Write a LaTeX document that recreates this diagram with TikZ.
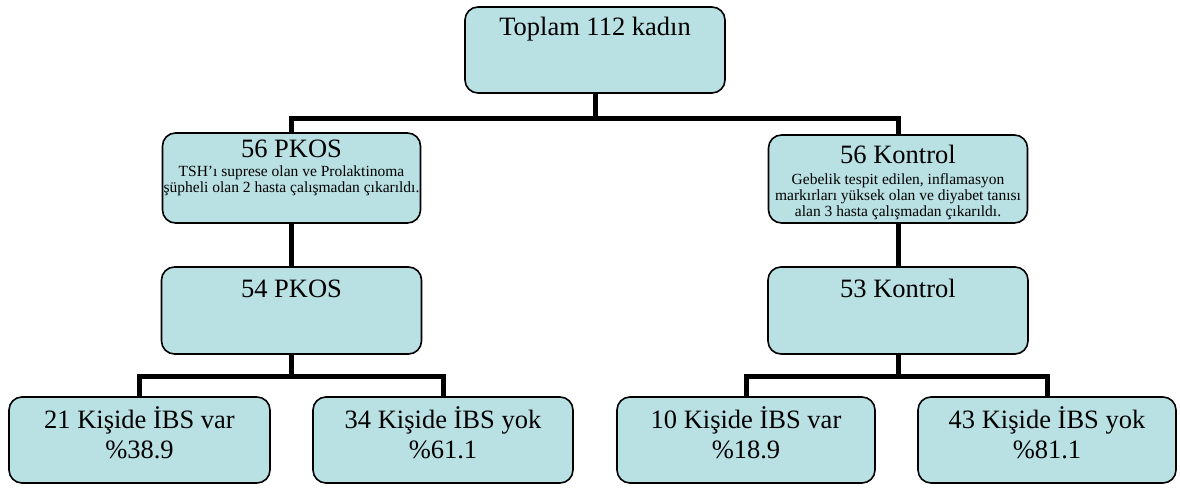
\documentclass[tikz,border=0pt]{standalone}
\usepackage{fontspec}
\setmainfont{Liberation Serif}
\usetikzlibrary{backgrounds}
\definecolor{boxfill}{RGB}{185,224,227}
\tikzset{
  box/.style={draw=black, line width=1.6pt, fill=boxfill, rounded corners=13pt,
    minimum width=260pt, minimum height=87pt, inner sep=0pt},
  conn/.style={draw=black, line width=5pt},
  bigtext/.style={font=\fontsize{26.5}{30}\selectfont, anchor=base, inner sep=0pt},
  smalltext/.style={font=\fontsize{15.5}{17}\selectfont, anchor=base, inner sep=0pt}
}
\begin{document}
\begin{tikzpicture}[x=1pt,y=-1pt]
\useasboundingbox (0,0) rectangle (1180,487);
% boxes
\node[box, minimum height=86pt] (top) at (595,50) {};
\node[box, minimum width=258pt, minimum height=90pt] (pkos) at (291.5,178) {};
\node[box, minimum width=259pt, minimum height=88pt] (kontrol) at (898,179) {};
\node[box] (p54) at (291.5,310.5) {};
\node[box] (k53) at (898,310.5) {};
\node[box, minimum width=261pt, minimum height=86pt] (b1) at (139.5,440) {};
\node[box, minimum height=86pt] (b2) at (443,440) {};
\node[box, minimum width=258pt, minimum height=86pt] (b3) at (746,440) {};
\node[box, minimum width=258pt, minimum height=86pt] (b4) at (1047,440) {};
% connectors
\coordinate (j1) at (595,118);
\coordinate (j2) at (291.5,376);
\coordinate (j3) at (898,376);
\begin{scope}[on background layer]
\draw[conn] (top.south) -- (j1);
\draw[conn] (pkos.north) |- (j1) -| (kontrol.north);
\draw[conn] (pkos.south) -- (p54.north);
\draw[conn] (kontrol.south) -- (k53.north);
\draw[conn] (p54.south) -- (j2);
\draw[conn] (b1.north) |- (j2) -| (b2.north);
\draw[conn] (k53.south) -- (j3);
\draw[conn] (b3.north) |- (j3) -| (b4.north);
\end{scope}
% texts
\node[bigtext] (ttop) at (595,36) {Toplam 112 kadın};
\node[bigtext] (tpkos) at (291.5,157) {56 PKOS};
\node[smalltext] (tpkos1) at (291.5,176) {TSH’ı suprese olan ve Prolaktinoma};
\node[smalltext] (tpkos2) at (291.5,192) {şüpheli olan 2 hasta çalışmadan çıkarıldı.};
\node[bigtext] (tkon) at (898,163) {56 Kontrol};
\node[smalltext] (tkon1) at (898,184) {Gebelik tespit edilen, inflamasyon};
\node[smalltext] (tkon2) at (898,200) {markırları yüksek olan ve diyabet tanısı};
\node[smalltext] (tkon3) at (898,216) {alan 3 hasta çalışmadan çıkarıldı.};
\node[bigtext] (tp54) at (291.5,297) {54 PKOS};
\node[bigtext] (tk53) at (898,297) {53 Kontrol};
\node[bigtext] (tb1a) at (139.5,428) {21 Kişide İBS var};
\node[bigtext] (tb1b) at (139.5,458) {\%38.9};
\node[bigtext] (tb2a) at (443,428) {34 Kişide İBS yok};
\node[bigtext] (tb2b) at (443,458) {\%61.1};
\node[bigtext] (tb3a) at (746,428) {10 Kişide İBS var};
\node[bigtext] (tb3b) at (746,458) {\%18.9};
\node[bigtext] (tb4a) at (1047,428) {43 Kişide İBS yok};
\node[bigtext] (tb4b) at (1047,458) {\%81.1};
\end{tikzpicture}
\end{document}
